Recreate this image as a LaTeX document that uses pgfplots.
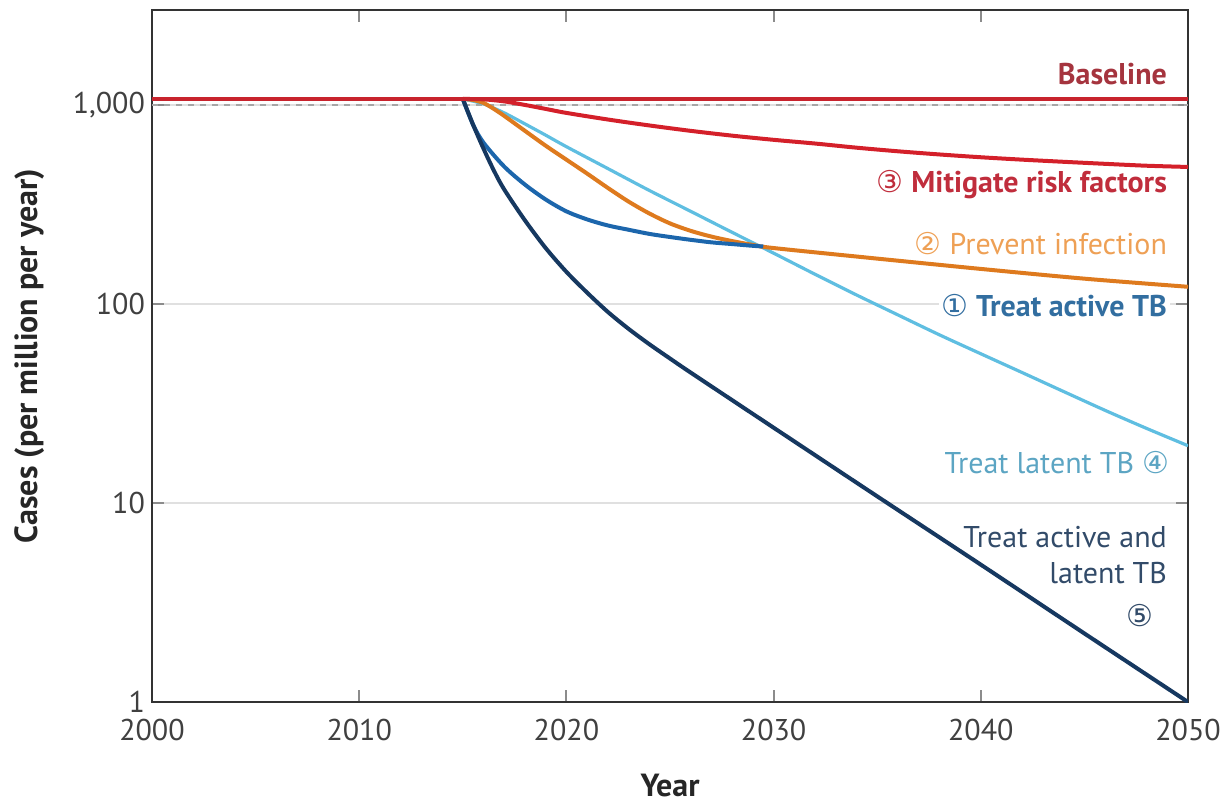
\documentclass[border=0pt]{standalone}
\usepackage{pgfplots}
\pgfplotsset{compat=1.18}
\usepackage{fontspec}
\setmainfont{PT Sans}
\newfontfamily\sym{DejaVu Sans}
\definecolor{cBase}{RGB}{200,35,45}
\definecolor{cMit}{RGB}{212,32,42}
\definecolor{cOra}{RGB}{222,122,30}
\definecolor{cLbl}{RGB}{95,190,225}
\definecolor{cBlu}{RGB}{28,102,172}
\definecolor{cNav}{RGB}{22,56,96}
\definecolor{tBase}{RGB}{165,52,62}
\definecolor{tMit}{RGB}{192,45,60}
\definecolor{tOra}{RGB}{238,160,85}
\definecolor{tBlu}{RGB}{50,110,160}
\definecolor{tLbl}{RGB}{92,165,195}
\definecolor{tNav}{RGB}{50,75,105}
\newcommand{\fs}{\fontsize{15}{18}\selectfont}
\begin{document}
\begin{tikzpicture}
\path[use as bounding box] (-76pt,-51pt) rectangle (534pt,351pt);
\begin{axis}[
  at={(0pt,0pt)}, anchor=south west,
  scale only axis, width=518pt, height=346pt,
  ymode=log, xmin=2000, xmax=2050, ymin=1, ymax=3000,
  xtick={2000,2010,2020,2030,2040,2050},
  xticklabels={2000,2010,2020,2030,2040,2050},
  ytick={1,10,100,1000}, yticklabels={1,10,100,{1,000}},
  yminorticks=false,
  tick align=inside, major tick length=6pt,
  axis line style={draw=black!80, line width=1pt},
  tick style={draw=black!45, line width=1pt},
  tick label style={font=\fs, text=black!75},
  xticklabel style={yshift=-5pt},
  ymajorgrids, major grid style={black!12, line width=1pt},
  every axis x label/.style={at={(axis description cs:0.5,-0.12)}, anchor=center},
  every axis y label/.style={at={(axis description cs:-0.118,0.5)}, rotate=90, anchor=center},
  label style={font=\bfseries\fontsize{16}{18}\selectfont, text=black!85},
  xlabel={Year}, ylabel={Cases (per million per year)},
]
\addplot[black!35, dashed, line width=1pt, forget plot] coordinates {(2000,1000) (2050,1000)};
% Treat latent TB (4)
\addplot[cLbl, line width=1.6pt, smooth, tension=0.5] coordinates {
(2015,1072) (2016,1012) (2017,912) (2018,803) (2019,705) (2020,617) (2022,479) (2024,372)
(2026,292) (2028,229) (2030,180) (2032,141) (2034,111) (2036,88.1) (2038,70.0) (2040,56.2)
(2042,45.2) (2044,36.3) (2046,29.2) (2048,23.7) (2050,19.4)};
% Prevent infection (2)
\addplot[cOra, line width=2pt, smooth, tension=0.5] coordinates {
(2015,1072) (2015.5,1059) (2016,1023) (2016.5,955) (2017,881) (2018,741) (2019,624) (2020,531)
(2021,452) (2022,383) (2023,327) (2024,285) (2025,254) (2026,233) (2027,218) (2028,207)
(2029,198) (2030,191) (2035,169) (2040,150) (2045,134) (2050,122)};
% Treat active TB (1)
\addplot[cBlu, line width=2pt, smooth, tension=0.5] coordinates {
(2015,1072) (2015.5,794) (2016,646) (2017,490) (2018,398) (2019,335) (2020,292) (2021,266)
(2022,248) (2023,236) (2024,225) (2025,217) (2026,210) (2027,204) (2028,200) (2029,196) (2029.5,194.5)};
% Treat active and latent TB (5)
\addplot[cNav, line width=2pt, smooth, tension=0.5] coordinates {
(2015,1072) (2015.5,794) (2016,603) (2016.5,468) (2017,376) (2018,263) (2019,191) (2020,145)
(2021,114) (2022,91.2) (2023,75) (2024,62.8) (2025,53.2) (2026,45.2) (2030,23.9) (2035,10.8)
(2040,4.9) (2045,2.21) (2050,1)};
% Mitigate risk factors (3)
\addplot[cMit, line width=2pt, smooth, tension=0.5] coordinates {
(2015,1072) (2016,1067) (2017,1042) (2018,1000) (2019,955) (2020,912) (2022,845) (2024,789)
(2026,741) (2028,701) (2030,668) (2032,640) (2034,610) (2036,585) (2038,564) (2040,546)
(2042,531) (2044,518) (2046,506) (2048,495) (2050,488)};
% Baseline
\addplot[cBase, line width=2pt] coordinates {(2000,1072) (2050,1072)};

\node[anchor=east, inner sep=0pt, text=tBase, font=\bfseries\fs] at (axis cs:2049,1428) {Baseline};
\node[anchor=east, inner sep=0pt, text=tMit, font=\bfseries\fs] at (axis cs:2049,397) {{\sym\mdseries ③} Mitigate risk factors};
\node[anchor=east, inner sep=0pt, text=tOra, font=\fs] at (axis cs:2049,201) {{\sym ②} Prevent infection};
\node[anchor=east, text=tBlu, font=\bfseries\fs, fill=white, inner sep=1.5pt, xshift=1.5pt] at (axis cs:2049,98) {{\sym\mdseries ①} Treat active TB};
\node[anchor=east, inner sep=0pt, text=tLbl, font=\fs] at (axis cs:2049.1,15.9) {Treat latent TB {\sym ④}};
\node[anchor=east, inner sep=0pt, text=tNav, font=\fs, align=right] at (axis cs:2049,5.45) {Treat active and\\latent TB};
\node[anchor=center, inner sep=0pt, text=tNav, font=\fs] at (axis cs:2047.7,2.73) {\sym ⑤};
\end{axis}
\end{tikzpicture}
\end{document}
